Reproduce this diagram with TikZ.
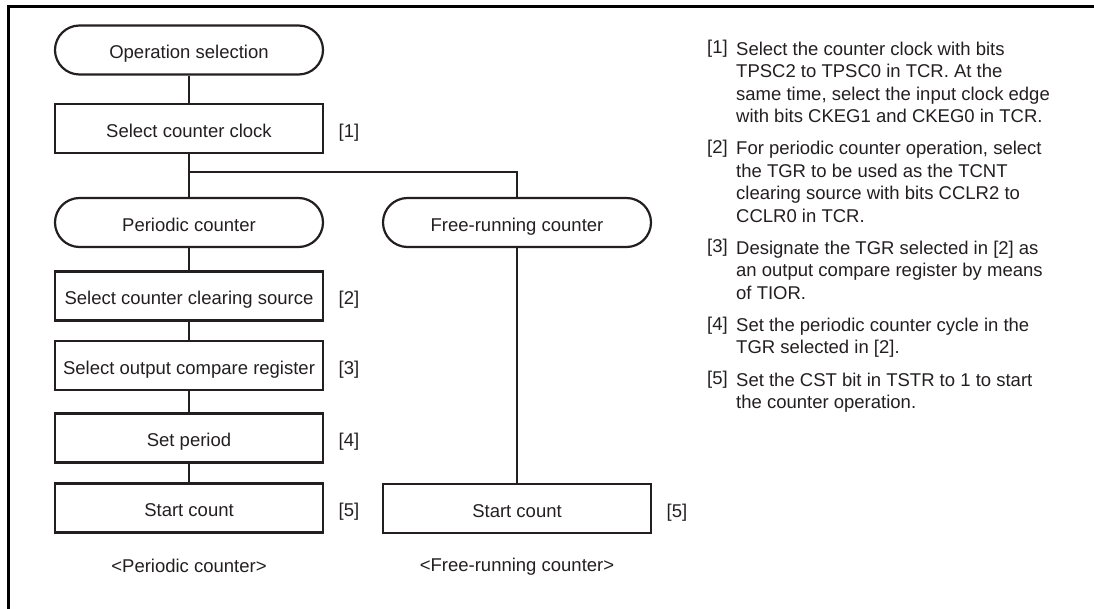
\documentclass[tikz,border=0pt]{standalone}
\usepackage{fontspec}
\setmainfont{Liberation Sans}
\definecolor{ink}{HTML}{231F20}
\begin{document}
\begin{tikzpicture}[x=1pt,y=-1pt,
  every node/.style={font=\fontsize{18.5}{22.4}\selectfont, text=ink},
  boxbase/.style={draw=ink, minimum width=268pt, minimum height=49pt, inner sep=0pt, text height=17.6pt, text depth=0pt},
  proc/.style={boxbase, line width=2.6pt},
  term/.style={boxbase, line width=2.2pt, rounded corners=24.5pt},
  tag/.style={inner sep=0pt, text height=17.6pt, text depth=0pt},
  link/.style={draw=ink, line width=1.2pt},
  notelabel/.style={anchor=base west, inner sep=0pt},
  notetext/.style={anchor=north west, inner sep=0pt, align=left}]
\useasboundingbox (0,0) rectangle (1094,609);
\draw[line width=2.5pt, black] (8.5,609) -- (8.5,6.7) -- (1094,6.7);

% left column
\node[term] (op) at (189,50) {Operation selection};
\node[proc] (clk) at (189,128.5) {Select counter clock};
\node[term] (per) at (189,222.5) {Periodic counter};
\node[proc] (clr) at (189,296) {Select counter clearing source};
\node[proc] (ocr) at (189,365.5) {Select output compare register};
\node[proc] (prd) at (189,438) {Set period};
\node[proc] (sc1) at (189,508) {Start count};
% right column
\node[term] (fr) at (517,222.5) {Free-running counter};
\node[proc] (sc2) at (517,508.5) {Start count};

% tags
\node[tag] (t1) at (349,128.5) {[1]};
\node[tag] (t2) at (349,296) {[2]};
\node[tag] (t3) at (349,365.5) {[3]};
\node[tag] (t4) at (349,438) {[4]};
\node[tag] (t5) at (349,508) {[5]};
\node[tag] (t5b) at (677,508.5) {[5]};

% captions
\node[tag] (cap1) at (189,563.5) {<Periodic counter>};
\node[tag] (cap2) at (517,563) {<Free-running counter>};

% connectors
\coordinate (br) at (189,172);
\draw[link] (op) -- (clk);
\draw[link] (clk) -- (per);
\draw[link] (br) -| (fr.north);
\draw[link] (per) -- (clr);
\draw[link] (clr) -- (ocr);
\draw[link] (ocr) -- (prd);
\draw[link] (prd) -- (sc1);
\draw[link] (fr) -- (sc2);

% notes
\node[notelabel] (n1l) at (707,54) {[1]};
\node[notetext] (n1) at (736,41.7) {Select the counter clock with bits\\TPSC2 to TPSC0 in TCR. At the\\same time, select the input clock edge\\with bits CKEG1 and CKEG0 in TCR.};
\node[notelabel] (n2l) at (707,153.5) {[2]};
\node[notetext] (n2) at (736,141.2) {For periodic counter operation, select\\the TGR to be used as the TCNT\\clearing source with bits CCLR2 to\\CCLR0 in TCR.};
\node[notelabel] (n3l) at (707,253) {[3]};
\node[notetext] (n3) at (736,240.7) {Designate the TGR selected in [2] as\\an output compare register by means\\of TIOR.};
\node[notelabel] (n4l) at (707,330.1) {[4]};
\node[notetext] (n4) at (736,317.8) {Set the periodic counter cycle in the\\TGR selected in [2].};
\node[notelabel] (n5l) at (707,384.8) {[5]};
\node[notetext] (n5) at (736,372.5) {Set the CST bit in TSTR to 1 to start\\the counter operation.};
\end{tikzpicture}
\end{document}
